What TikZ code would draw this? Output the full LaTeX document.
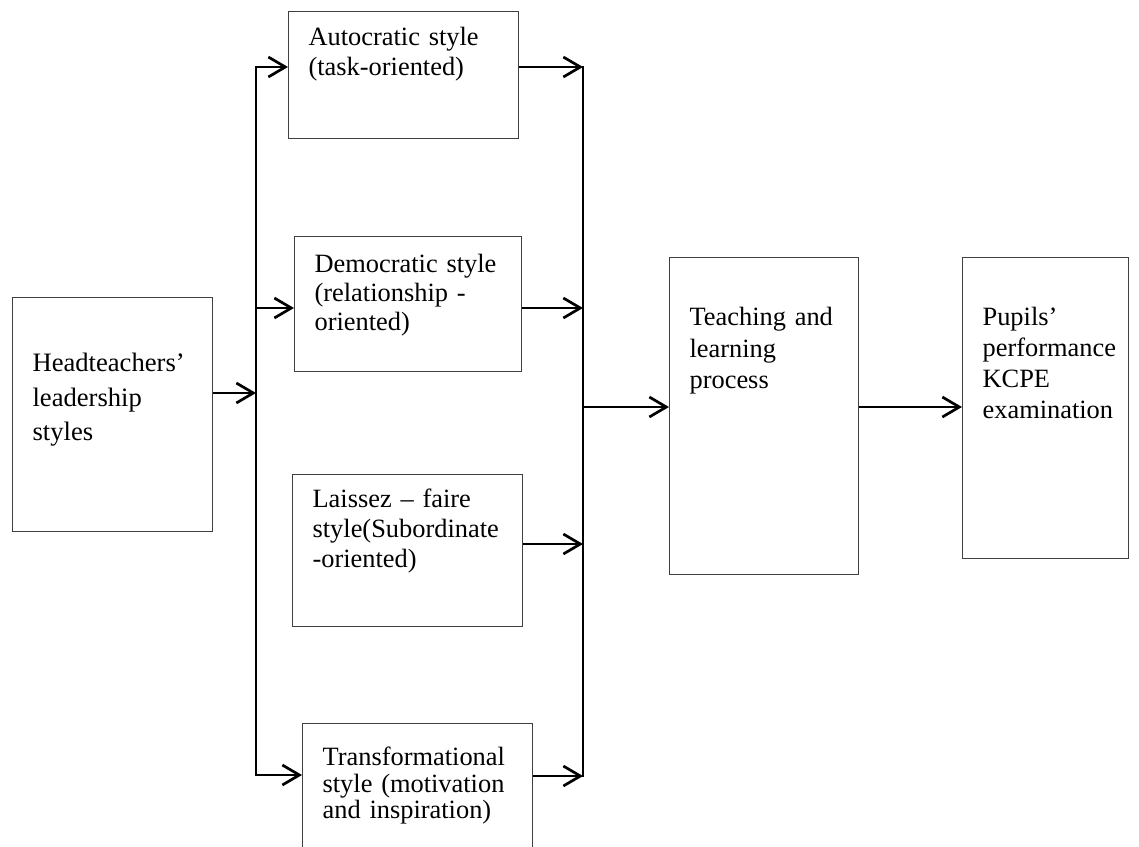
\documentclass[tikz,border=0pt]{standalone}
\usepackage{fontspec}
\setmainfont{Liberation Serif}
\usepackage{tikz}
\usetikzlibrary{arrows.meta}

\tikzset{
  stylebox/.style n args={3}{draw=black!75, line width=1.2pt, anchor=north west,
    align=left, inner xsep=20pt, inner ysep=0pt,
    text width=#1, text height=#2, text depth=#3},
  conn/.style={line width=2.7pt, -{Straight Barb[length=17pt,width=20pt]}},
  trunk/.style={line width=2.7pt, line cap=rect}
}

\begin{document}
\begin{tikzpicture}[x=1pt, y=-1pt, font=\fontsize{26.4}{30}\selectfont]
  \clip (0,0) rectangle (1139,846);

  \draw (12,297)   node (head)  [stylebox={160pt}{74pt}{160pt}, font=\fontsize{26.6}{34.5}\selectfont] {Headteachers’\\leadership\\styles};

  \draw (288,11)   node (auto)  [stylebox={190pt}{34pt}{93pt}] {Autocratic style\\(task-oriented)};
  \draw (294,236)  node (demo)  [stylebox={187pt}{36pt}{99pt}, font=\fontsize{26.4}{29}\selectfont] {Democratic style\\(relationship -\\oriented)};
  \draw (292,474)  node (laiss) [stylebox={190pt}{33pt}{119pt}] {Laissez -- faire\\style(Subordinate\\-oriented)};
  \draw (302,723)  node (trans) [stylebox={190pt}{42pt}{150pt}, font=\fontsize{26.4}{26.5}\selectfont] {Transformational\\style (motivation\\and inspiration)};

  \draw (669,257)  node (teach) [stylebox={149pt}{68pt}{249pt}, font=\fontsize{26.4}{31.5}\selectfont] {Teaching and\\learning\\process};
  \draw (962,257)  node (pupil) [stylebox={126pt}{68pt}{233pt}, font=\fontsize{26.4}{31}\selectfont] {Pupils’\\performance\\KCPE\\examination};

  % left trunk
  \coordinate (l1) at (256,67);
  \coordinate (l2) at (256,308);
  \coordinate (lh) at (256,393);
  \coordinate (l4) at (256,775);
  \draw[trunk] (l1) -- (l4);
  \draw[conn] (head.east |- lh) -- (lh);
  \draw[conn] (l1) -- (l1 -| auto.west);
  \draw[conn] (l2) -- (l2 -| demo.west);
  \draw[conn] (l4) -- (l4 -| trans.west);

  % right trunk
  \coordinate (r1) at (583,67);
  \coordinate (r2) at (583,308);
  \coordinate (r3) at (583,544);
  \coordinate (rm) at (583,407);
  \coordinate (r4) at (583,776);
  \draw[trunk] (r1) -- (r4);
  \draw[conn] (r1 -| auto.east) -- (r1);
  \draw[conn] (r2 -| demo.east) -- (r2);
  \draw[conn] (r3 -| laiss.east) -- (r3);
  \draw[conn] (r4 -| trans.east) -- (r4);

  \draw[conn] (rm) -- (rm -| teach.west);
  \draw[conn] (rm -| teach.east) -- (rm -| pupil.west);
\end{tikzpicture}
\end{document}
